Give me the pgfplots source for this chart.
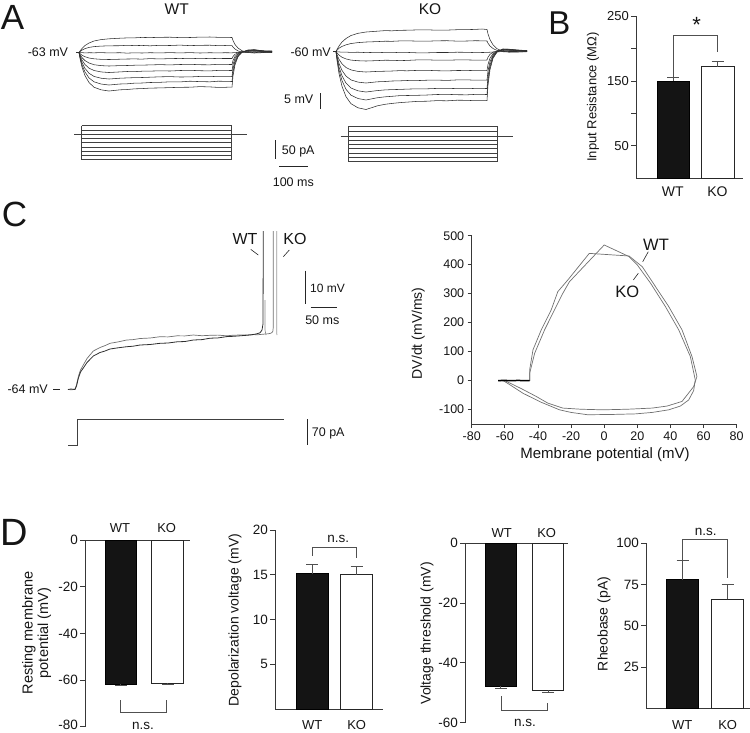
\documentclass[border=0pt]{standalone}
\usepackage{fontspec}
\setmainfont{Liberation Sans}
\usepackage{pgfplots}
\usepackage{pgfplotstable}
\pgfplotsset{compat=1.18}
\newcommand{\fs}[1]{\fontsize{#1}{#1}\selectfont}
\definecolor{axc}{HTML}{383838}
\definecolor{trc}{HTML}{2E2E2E}
\definecolor{tgr}{HTML}{707070}
\definecolor{errc}{HTML}{505050}
\definecolor{txt}{HTML}{151515}

% Panel A, WT: voltage traces (x, y in figure pixels)
\pgfplotstableread{
x t1 t2 t3 t4 t5 t6 t7 t8 t9
76 52.5 52.5 52.5 52.5 52.5 52.5 52.5 52.5 52.5
79 52.5 52.5 52.5 52.5 52.5 52.5 52.5 52.5 52.5
80 51.0 51.6 52.7 53.6 54.5 55.5 56.5 57.4 58.3
82 48.5 50.1 52.6 55.2 57.6 60.1 62.6 64.9 67.1
85 45.5 48.6 52.9 56.7 60.6 64.5 68.4 72.0 75.6
89 43.0 47.4 52.7 58.0 63.0 68.1 73.2 77.9 82.5
94 41.0 46.6 52.8 58.8 64.7 70.5 76.4 81.8 87.2
101 39.6 46.1 52.6 59.3 65.6 71.9 78.2 84.0 89.8
109 38.8 45.8 52.9 59.5 66.0 72.5 79.0 85.0 91.0
120 38.2 45.7 52.7 59.2 65.6 71.9 78.2 84.0 89.8
127 37.9 45.3 53.1 59.0 65.5 71.5 77.9 83.8 89.5
135 37.8 45.6 52.8 58.9 65.2 71.6 77.6 83.1 88.8
142 37.4 45.4 53.0 59.1 65.1 71.2 77.5 83.0 88.6
150 37.6 45.8 52.7 58.6 64.9 71.1 77.2 82.5 88.1
160 37.3 45.3 52.9 58.9 64.6 70.8 76.8 82.3 87.9
170 37.2 45.5 52.6 58.6 64.9 71.0 76.6 81.8 87.6
180 37.6 45.1 52.9 58.4 64.5 70.5 77.0 81.9 87.3
190 37.5 45.6 52.6 58.7 64.3 70.3 76.9 81.2 87.2
200 37.1 45.3 53.0 58.3 64.7 70.7 76.4 81.6 86.6
210 37.0 45.2 52.7 58.6 64.8 70.9 76.3 81.8 86.9
218 37.3 45.6 52.9 58.4 64.3 70.4 76.7 81.2 87.4
225 37.3 45.5 52.7 58.5 64.4 70.4 76.7 81.3 87.3
232 37.5 45.6 52.8 58.5 64.5 70.5 76.5 81.5 87.0
233 40.6 47.1 52.7 56.4 60.5 64.5 68.7 72.1 75.9
235 44.5 49.0 52.6 54.3 56.4 58.5 60.9 62.8 64.8
238 48.0 50.9 52.4 52.8 53.4 54.1 55.2 56.0 56.7
242 50.7 52.1 52.2 51.9 51.8 51.7 52.1 52.2 52.2
248 52.5 52.7 52.0 51.5 51.0 50.5 50.5 50.3 50.0
254 53.0 52.4 51.7 51.0 50.6 50.2 50.0 49.8 49.7
260 52.8 52.6 51.9 51.5 51.2 50.9 50.6 50.5 50.4
266 52.3 52.2 52.1 52.0 51.5 51.6 51.2 51.3 51.0
272 52.5 52.3 52.0 51.8 51.8 51.5 51.3 51.2 51.0
}\wtA

% Panel A, KO: voltage traces
\pgfplotstableread{
x k1 k2 k3 k4 k5 k6 k7 k8 k9
333 51.5 51.5 51.5 51.5 51.5 51.5 51.5 51.5 51.5
336 51.5 51.5 51.5 51.5 51.5 51.5 51.5 51.5 51.5
337 49.5 50.3 51.8 52.9 54.6 56.2 57.6 58.8 60.2
339 46.0 48.2 51.9 55.1 59.3 63.5 66.9 69.9 73.5
342 42.0 46.4 52.2 57.2 63.8 70.4 75.8 80.6 86.3
346 38.5 44.8 52.1 58.9 67.5 76.1 83.1 89.3 96.7
351 35.5 43.5 52.4 60.1 69.9 79.9 88.0 95.2 103.7
358 33.3 42.6 52.2 60.7 71.4 82.1 90.8 98.5 107.8
366 32.0 42.0 52.6 61.0 72.0 83.0 92.0 100.0 109.5
377 31.2 41.6 52.3 60.6 71.4 81.8 90.6 97.8 105.9
385 30.6 41.2 52.6 60.2 71.2 81.5 89.9 96.8 104.3
392 30.8 41.3 52.7 60.3 71.0 81.0 89.6 96.3 103.4
400 30.3 40.9 52.3 60.6 70.6 80.8 89.4 95.6 102.6
407 30.2 40.8 52.4 60.4 70.8 80.5 89.1 95.5 102.1
417 29.9 41.1 52.8 59.9 70.4 80.6 88.8 95.3 101.4
427 29.8 41.2 52.8 59.8 70.3 80.2 88.8 95.0 101.2
437 30.2 40.8 52.5 60.2 70.7 80.1 88.4 94.5 100.6
447 30.1 40.7 52.5 60.2 70.9 80.4 88.3 94.3 100.8
457 29.7 41.1 52.2 59.9 70.5 79.9 88.6 94.7 100.2
467 29.6 41.0 52.3 59.9 70.4 79.8 88.7 94.8 100.3
475 29.4 40.7 52.6 60.1 70.6 80.2 88.4 94.4 100.7
482 29.0 40.8 52.5 60.1 70.7 80.1 88.4 94.4 100.6
487 29.5 41.0 52.4 60.0 70.5 80.0 88.5 94.5 100.5
488 33.9 43.2 52.3 57.2 64.4 70.9 76.7 80.9 85.0
490 39.6 46.0 52.2 54.3 58.2 61.7 65.0 67.2 69.6
493 44.8 48.5 52.0 52.2 53.7 55.0 56.4 57.2 58.3
497 48.7 50.4 51.8 51.1 51.2 51.3 51.7 51.7 52.1
503 51.3 51.7 51.6 50.5 50.0 49.5 49.3 49.0 49.0
509 52.0 52.0 51.5 50.6 50.2 49.8 49.6 49.3 49.2
515 52.2 51.8 51.5 50.9 50.6 50.3 50.2 49.9 49.7
521 51.8 51.9 51.4 51.1 50.8 50.6 50.8 50.4 50.2
527 51.5 51.7 51.4 51.3 51.0 50.8 51.2 50.8 50.5
}\koA

\pgfplotsset{
 barax/.style={scale only axis, clip=false, axis y line*=left, tick align=outside,
   major tick length=5pt, axis line style={draw=axc, line width=0.9pt},
   tick style={draw=axc, line width=0.9pt}, xtick=\empty,
   yticklabel style={font=\fs{13.5}, text=txt, inner sep=2pt}},
 wtbar/.style={ybar, bar shift=0pt, fill=black!92, draw=black, line width=0.9pt},
 kobar/.style={ybar, bar shift=0pt, fill=white, draw=black!85, line width=0.9pt},
 brk/.style={draw=errc, line width=0.9pt, sharp plot},
 erru/.style={error bars/.cd, y dir=plus, y explicit,
   error bar style={draw=errc, line width=0.9pt},
   error mark options={rotate=90, mark size=6pt, draw=errc, line width=0.9pt}},
 errd/.style={error bars/.cd, y dir=minus, y explicit,
   error bar style={draw=errc, line width=0.9pt},
   error mark options={rotate=90, mark size=6pt, draw=errc, line width=0.9pt}},
 tr/.style={draw=trc, line width=0.55pt},
 cur/.style={draw=black!75, line width=0.6pt},
 sb/.style={draw=black!85, line width=0.9pt},
}
\tikzset{lab/.style={inner sep=0pt, text=txt}}

\begin{document}
\begin{tikzpicture}

% ---------- overlay: traces, scale bars, annotations (pixel coordinates) ----------
\begin{axis}[at={(0pt,0pt)}, anchor=north west, scale only axis, width=750pt, height=732pt,
  xmin=0, xmax=750, ymin=0, ymax=732, y dir=reverse, hide axis, clip=false]
% A: WT voltage traces
\pgfplotsinvokeforeach{t1,t2,t3,t4,t5,t6,t7,t8,t9}{\addplot[tr] table[x=x,y=#1]{\wtA};}
% A: KO voltage traces
\pgfplotsinvokeforeach{k1,k2,k3,k4,k5,k6,k7,k8,k9}{\addplot[tr] table[x=x,y=#1]{\koA};}
% A: WT current steps
\addplot[cur] coordinates {(81.7,125.7)(231.7,125.7)(231.7,130)(81.7,130)(81.7,134.3)(231.7,134.3)(231.7,138.5)(81.7,138.5)(81.7,142.7)(231.7,142.7)(231.7,147)(81.7,147)(81.7,151.1)(231.7,151.1)(231.7,155.2)(81.7,155.2)(81.7,159.3)(231.7,159.3)};
\addplot[cur] coordinates {(81.7,125.7)(81.7,159.3)};
\addplot[cur] coordinates {(231.7,125.7)(231.7,159.3)};
\addplot[cur] coordinates {(74,134.3)(247.3,134.3)};
% A: KO current steps
\addplot[cur] coordinates {(348.3,126.7)(497.3,126.7)(497.3,131.1)(348.3,131.1)(348.3,136)(497.3,136)(497.3,139.8)(348.3,139.8)(348.3,144.2)(497.3,144.2)(497.3,148.6)(348.3,148.6)(348.3,153)(497.3,153)(497.3,157.3)(348.3,157.3)(348.3,161.7)(497.3,161.7)};
\addplot[cur] coordinates {(348.3,126.7)(348.3,161.7)};
\addplot[cur] coordinates {(497.3,126.7)(497.3,161.7)};
\addplot[cur] coordinates {(340.7,136)(513,136)};
% A: scale bars
\addplot[sb] coordinates {(320.7,93.3)(320.7,109.3)};
\addplot[sb] coordinates {(275,140)(275,159.3)};
\addplot[sb] coordinates {(279.3,166)(308.3,166)};
% C: KO trace (gray) up to its spike
\addplot[draw=tgr, line width=0.7pt] coordinates {(68,389.5)(72,389.8)(75,389)(76.5,385)(78.3,376.7)(80.5,370)(83.3,365)(87,358.5)(93.3,351)(100,347.5)(105,345.6)(110,343.3)(118,341.9)(126.7,340)(133,339.6)(140,338.5)(150,338)(160,336.7)(168,336.9)(177,335.8)(185,335.9)(193.3,335)(202,335.7)(210,335.3)(218,335.1)(226.7,335.8)(233,335.2)(240,335)(247,334.9)(253.3,334.6)(258,334.7)(263,334.2)(268,333.8)(271,333.2)(272.8,331.5)(273.3,327)(273.3,231)};
\addplot[draw=black!40, line width=0.7pt] coordinates {(276.7,231)(276.7,333)(277,335)};
% C: WT trace (black) up to its spike
\addplot[draw=trc, line width=0.8pt] coordinates {(68,389.5)(71,389)(75,389.5)(76.5,386)(78.3,378.5)(80.5,372)(83.3,368)(87,362.5)(93.3,356)(100,352.5)(105,351)(110,349)(118,347.8)(126.7,346.7)(133,346.2)(140,345)(150,344.5)(160,343.3)(168,343)(177,341.8)(185,341.5)(193.3,340)(202,339.6)(210,338.2)(218,337.9)(226.7,336.6)(233,336.3)(240,335.8)(250,335)(256,334)(260,332.8)(262,330)(263,324)(263.3,231)};
\addplot[draw=black!45, line width=0.6pt] coordinates {(265,300)(265,330)(266,335)};
% C: current step
\addplot[cur, line width=0.8pt] coordinates {(68.3,445)(77.3,445)(77.3,419)(284,419)};
% C: scale bars and leaders
\addplot[sb] coordinates {(305.7,270.7)(305.7,304)};
\addplot[sb] coordinates {(310.7,307.3)(337.3,307.3)};
\addplot[sb] coordinates {(307.3,419)(307.3,445)};
\addplot[sb, line width=0.6pt] coordinates {(53,389.3)(60,389.3)};
\addplot[sb, line width=0.6pt] coordinates {(250.7,249.3)(258.3,255)};
\addplot[sb, line width=0.6pt] coordinates {(289.3,250)(283.3,256.7)};
% phase plot leaders
\addplot[sb, line width=0.6pt] coordinates {(648.3,251.7)(642.7,261.7)};
\addplot[sb, line width=0.6pt] coordinates {(633.3,280)(638.3,273.3)};

% panel letters
\node[lab, font=\fs{35}] at (axis cs:12.5,17.5) {A};
\node[lab, font=\fs{33}] at (axis cs:559.5,23.3) {B};
\node[lab, font=\fs{35}] at (axis cs:14.5,214) {C};
\node[lab, font=\fs{38}] at (axis cs:14.5,532.5) {D};
% A text
\node[lab, font=\fs{15.5}] at (axis cs:176.7,9.5) {WT};
\node[lab, font=\fs{15.5}] at (axis cs:430,9.5) {KO};
\node[lab, font=\fs{12.5}, anchor=east] at (axis cs:68.3,52.3) {-63 mV};
\node[lab, font=\fs{12.5}, anchor=east] at (axis cs:331,52) {-60 mV};
\node[lab, font=\fs{12.5}, anchor=east] at (axis cs:313.5,99.3) {5 mV};
\node[lab, font=\fs{12.5}, anchor=base west] at (axis cs:281.7,154) {50 pA};
\node[lab, font=\fs{12.5}, anchor=base] at (axis cs:293.3,186.5) {100 ms};
% B text
\node[lab, font=\fs{13}, rotate=90] at (axis cs:593,97) {Input Resistance (MΩ)};
\node[lab, font=\fs{14}] at (axis cs:672.7,191.5) {WT};
\node[lab, font=\fs{14}] at (axis cs:717.5,191.5) {KO};
\node[lab, font=\fs{22}, anchor=north] at (axis cs:696.7,16.7) {*};
% C text
\node[lab, font=\fs{12.5}, anchor=east] at (axis cs:48,389.3) {-64 mV};
\node[lab, font=\fs{16}] at (axis cs:245,239.3) {WT};
\node[lab, font=\fs{16}] at (axis cs:295,239.3) {KO};
\node[lab, font=\fs{12}, anchor=west] at (axis cs:310,288.3) {10 mV};
\node[lab, font=\fs{12.5}, anchor=base] at (axis cs:322.3,324) {50 ms};
\node[lab, font=\fs{12.5}, anchor=base west] at (axis cs:311.7,436.8) {70 pA};
\node[lab, font=\fs{16.5}] at (axis cs:656,245) {WT};
\node[lab, font=\fs{16.5}] at (axis cs:627.3,291.7) {KO};
\node[lab, font=\fs{14}, rotate=90] at (axis cs:418.3,333.3) {DV/dt (mV/ms)};
\node[lab, font=\fs{15}, anchor=base] at (axis cs:605,458.5) {Membrane potential (mV)};
% D text
\node[lab, font=\fs{14.5}, rotate=90, align=center] at (axis cs:36.7,633) {Resting membrane\\[1pt]potential (mV)};
\node[lab, font=\fs{13}] at (axis cs:120,528.3) {WT};
\node[lab, font=\fs{13}] at (axis cs:166.7,528.3) {KO};
\node[lab, font=\fs{13.5}, anchor=base] at (axis cs:143,729.3) {n.s.};
\node[lab, font=\fs{14}, rotate=90] at (axis cs:235,620) {Depolarization voltage (mV)};
\node[lab, font=\fs{13.5}, anchor=base] at (axis cs:338.3,542.7) {n.s.};
\node[lab, font=\fs{13}] at (axis cs:312.2,725.3) {WT};
\node[lab, font=\fs{13}] at (axis cs:356.7,725.3) {KO};
\node[lab, font=\fs{14}, rotate=90] at (axis cs:427,633.3) {Voltage threshold (mV)};
\node[lab, font=\fs{13}] at (axis cs:501.7,532.7) {WT};
\node[lab, font=\fs{13}] at (axis cs:546.7,532.7) {KO};
\node[lab, font=\fs{13.5}, anchor=base] at (axis cs:525,726) {n.s.};
\node[lab, font=\fs{14}, rotate=90] at (axis cs:604,624) {Rheobase (pA)};
\node[lab, font=\fs{13.5}, anchor=base] at (axis cs:705.7,535) {n.s.};
\node[lab, font=\fs{13}] at (axis cs:682.3,725) {WT};
\node[lab, font=\fs{13}] at (axis cs:727.7,725) {KO};
\end{axis}

% ---------- B: input resistance ----------
\begin{axis}[barax, at={(636pt,-178.3pt)}, anchor=south west, width=107.3pt, height=162pt,
  xmin=0, xmax=107.3, ymin=0, ymax=250, axis x line*=bottom,
  ytick={50,100,150,200,250}, yticklabels={50,,150,,250}, yticklabel style={font=\fs{13}}]
\addplot[wtbar, bar width=32pt, erru] coordinates {(37,150) +- (0,6)};
\addplot[kobar, bar width=33pt, erru] coordinates {(81.5,172) +- (0,8)};
\addplot[brk] coordinates {(37,156)(37,220)(81.5,220)(81.5,195)};
\end{axis}

% ---------- C: phase plot ----------
\begin{axis}[scale only axis, at={(471.7pt,-424pt)}, anchor=south west, width=265pt, height=188.3pt,
  xmin=-80, xmax=80, ymin=-150, ymax=500, axis x line*=bottom, axis y line*=left,
  tick align=outside, major tick length=4pt, clip=false,
  axis line style={draw=axc, line width=0.9pt}, tick style={draw=axc, line width=0.9pt},
  xtick={-80,-60,-40,-20,0,20,40,60,80}, xticklabels={-80,-60,-40,-20,0,20,40,60,80},
  ytick={-100,0,100,200,300,400,500}, yticklabels={-100,0,100,200,300,400,500},
  ticklabel style={font=\fs{12.5}, text=txt}]
\addplot[draw=tgr, line width=0.7pt] coordinates {(-64,0)(-45,0)(-45,37)(-43,106)(-38,175)(-32,244)(-28,307)(-22,347)(-9,439)(15,430)(23,393)(31,324)(39,255)(47,175)(53,83)(56,14)(54,-21)(47,-72)(38,-88)(29,-95)(14,-99)(-1,-101)(-14,-99)(-25,-95)(-34,-78)(-41,-55)(-50,-28)(-59,-3)(-64,0)};
\addplot[draw=tgr, line width=0.7pt] coordinates {(-64,0)(-45,0)(-45,25)(-42,94)(-36,175)(-30,244)(-25,301)(-21,341)(0,468)(15,428)(20,399)(28,336)(37,255)(45,175)(52,83)(55,2)(54,-35)(51,-67)(46,-88)(39,-101)(29,-110)(19,-115)(5,-117)(-10,-118)(-20,-110)(-27,-101)(-38,-75)(-49,-44)(-56,-18)(-61,0)(-64,0)};
\addplot[draw=black, line width=1.5pt] coordinates {(-64,0)(-60,0.5)(-56,-0.5)(-52,0.5)(-48,-0.5)(-45,0)};
\end{axis}

% ---------- D1: resting membrane potential ----------
\begin{axis}[barax, at={(85pt,-726.7pt)}, anchor=south west, width=105pt, height=186.7pt,
  xmin=0, xmax=105, ymin=-80, ymax=0, axis x line*=top,
  ytick={-80,-60,-40,-20,0}, yticklabels={\raisebox{3.5pt}{-80},-60,-40,-20,0}]
\addplot[wtbar, bar width=31.7pt, errd] coordinates {(35.8,-61.8) +- (0,0.5)};
\addplot[kobar, bar width=31.7pt, errd] coordinates {(82.5,-61.3) +- (0,0.7)};
\addplot[brk] coordinates {(35,-68.6)(35,-74)(81.7,-74)(81.7,-68.6)};
\end{axis}

% ---------- D2: depolarization voltage ----------
\begin{axis}[barax, at={(275pt,-709pt)}, anchor=south west, width=108pt, height=179pt,
  xmin=0, xmax=108, ymin=0, ymax=20, axis x line*=bottom,
  ytick={5,10,15,20}, yticklabels={5,10,15,20}]
\addplot[wtbar, bar width=32.3pt, erru] coordinates {(37.2,15.1) +- (0,1.0)};
\addplot[kobar, bar width=32pt, erru] coordinates {(81.7,15.0) +- (0,0.95)};
\addplot[brk] coordinates {(37.2,17.1)(37.2,18.1)(81.7,18.1)(81.7,16.9)};
\end{axis}

% ---------- D3: voltage threshold ----------
\begin{axis}[barax, at={(465pt,-722.7pt)}, anchor=south west, width=103.3pt, height=179.4pt,
  xmin=0, xmax=103.3, ymin=-60, ymax=0, axis x line*=top,
  ytick={-60,-40,-20,0}, yticklabels={-60,-40,-20,0}]
\addplot[wtbar, bar width=31.7pt, errd] coordinates {(35.8,-47.8) +- (0,0.9)};
\addplot[kobar, bar width=30.6pt, errd] coordinates {(83,-49.2) +- (0,0.8)};
\addplot[brk] coordinates {(36.7,-51.1)(36.7,-55.9)(82.3,-55.9)(82.3,-53.3)};
\end{axis}

% ---------- D4: rheobase ----------
\begin{axis}[barax, at={(646pt,-708.3pt)}, anchor=south west, width=104pt, height=165pt,
  xmin=0, xmax=104, ymin=0, ymax=100, axis x line*=bottom,
  ytick={25,50,75,100}, yticklabels={25,50,75,100}]
\addplot[wtbar, bar width=31.6pt, erru] coordinates {(36.5,78) +- (0,11.7)};
\addplot[kobar, bar width=32pt, erru] coordinates {(81.7,66) +- (0,9)};
\addplot[brk] coordinates {(36.5,89.7)(36.5,102.4)(81.7,102.4)(81.7,79)};
\end{axis}

\pgfresetboundingbox
\path[use as bounding box] (0pt,0pt) rectangle (750pt,-732pt);
\end{tikzpicture}
\end{document}
